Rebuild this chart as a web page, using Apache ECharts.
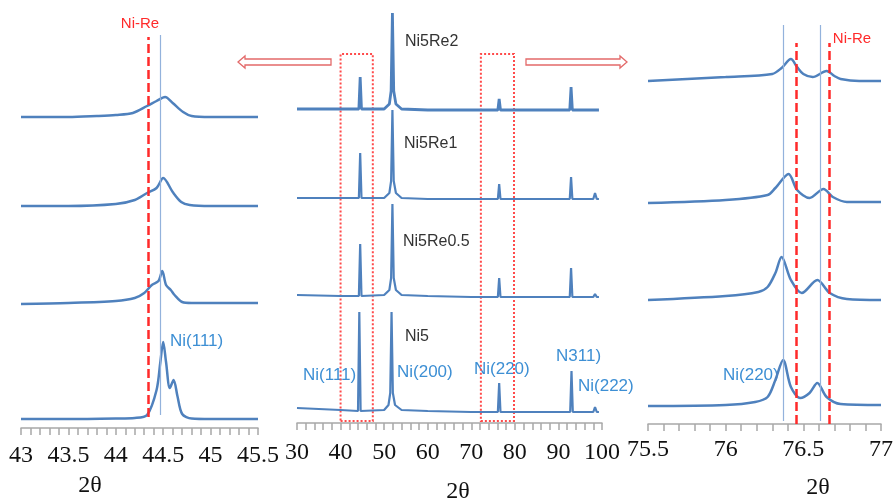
<!DOCTYPE html>
<html>
<head>
<meta charset="utf-8">
<script src="https://cdn.jsdelivr.net/npm/echarts@6/dist/echarts.min.js"></script>
<style>
  html, body { margin: 0; padding: 0; background: #fff; }
  #xrd { width: 896px; height: 502px; }
</style>
</head>
<body>
<div id="xrd"></div>
<script>
// intensity in a.u., each pattern already offset (as in the original stacked plot)
const samples = ['Ni5', 'Ni5Re0.5', 'Ni5Re1', 'Ni5Re2'];

// Ni(111) zoom, 43 - 45.5
const ni111Ni5 = [[43, 9], [43.5, 9], [44, 9.5], [44.2, 10], [44.33, 13], [44.43, 38], [44.47, 66], [44.5, 86],
  [44.53, 66], [44.57, 40], [44.61, 48], [44.65, 32], [44.7, 14], [44.8, 9.5], [45, 9], [45.5, 9]];
const ni111Re05 = [[43, 124], [43.5, 125], [44, 127], [44.2, 130], [44.3, 135], [44.38, 143], [44.45, 147],
  [44.49, 157], [44.53, 143], [44.58, 138], [44.62, 133], [44.7, 126], [44.8, 125], [45.5, 125]];
const ni111Re1 = [[43, 222], [43.5, 222], [44, 224], [44.2, 228], [44.33, 235], [44.43, 240], [44.5, 250],
  [44.6, 236], [44.69, 226], [44.78, 223], [45, 222], [45.5, 222]];
const ni111Re2 = [[43, 311], [43.5, 311], [43.8, 312], [44, 313], [44.18, 315], [44.33, 322], [44.43, 327],
  [44.52, 331], [44.6, 325], [44.71, 316], [44.8, 312], [45, 311], [45.5, 311]];

// full scan, 30 - 100
const fullNi5 = [[30, 15], [40, 13], [44, 12], [44.3, 111], [44.6, 12], [50, 13], [51, 18], [51.4, 30], [51.7, 111],
  [52, 30], [52.5, 18], [54, 13], [60, 12], [70, 11], [76.1, 11], [76.4, 40], [76.7, 11], [85, 11], [92.7, 11],
  [93, 52], [93.3, 11], [98, 11], [98.4, 16], [98.8, 11], [99.3, 11]];
const fullRe05 = [[30, 128], [40, 127], [44.2, 127], [44.5, 179], [44.8, 127], [50, 128], [51.2, 133], [51.6, 145],
  [51.9, 219], [52.2, 145], [52.7, 133], [54, 128], [60, 127], [70, 126], [76.1, 126], [76.4, 145], [76.7, 126],
  [85, 126], [92.6, 126], [92.9, 155], [93.2, 126], [98, 126], [98.4, 129], [98.8, 126], [99.3, 126]];
const fullRe1 = [[30, 225], [40, 225], [44.2, 225], [44.5, 270], [44.8, 225], [50, 225], [51.2, 230], [51.6, 242],
  [51.9, 313], [52.2, 242], [52.7, 230], [54, 225], [60, 224], [70, 224], [76.1, 224], [76.4, 239], [76.7, 224],
  [85, 224], [92.6, 224], [92.9, 246], [93.2, 224], [98, 224], [98.4, 230], [98.8, 224], [99.3, 224]];
const fullRe2 = [[30, 314], [40, 314], [44.2, 314], [44.5, 346], [44.8, 314], [50, 314], [51.2, 319], [51.6, 332],
  [51.9, 410], [52.2, 332], [52.7, 319], [54, 314], [60, 313], [70, 313], [76.1, 313], [76.4, 324], [76.7, 313],
  [85, 313], [92.6, 313], [92.9, 336], [93.2, 313], [98, 313], [98.4, 315], [98.8, 313], [99.3, 313]];

// Ni(220) zoom, 75.5 - 77
const ni220Ni5 = [[75.5, 18], [76, 19], [76.19, 22], [76.27, 27], [76.32, 44], [76.37, 64], [76.42, 37],
  [76.48, 26], [76.54, 31], [76.59, 41], [76.65, 27], [76.74, 20], [77, 19]];
const ni220Re05 = [[75.5, 124], [76, 128], [76.21, 132], [76.27, 137], [76.32, 151], [76.36, 167], [76.42, 144],
  [76.49, 131], [76.59, 144], [76.67, 131], [76.78, 125], [77, 124]];
const ni220Re1 = [[75.5, 221], [76, 224], [76.27, 229], [76.32, 236], [76.405, 250], [76.46, 234], [76.54, 226],
  [76.63, 235], [76.69, 227], [76.78, 222], [77, 222]];
const ni220Re2 = [[75.5, 343], [76, 347], [76.3, 350], [76.36, 356], [76.42, 365], [76.46, 357], [76.5, 350],
  [76.56, 347], [76.65, 353], [76.7, 348], [76.74, 345], [76.86, 343], [77, 343]];

// reference positions
const ni111Line = 44.47, niRe111 = 44.34;
const ni220Lines = [76.37, 76.606], niRe220 = [76.455, 76.67];
const zoomBoxes = [[40, 47.4], [72.2, 79.8]];

const BLUE = '#4f81bd';
const LABEL_BLUE = '#3d8fd4';
const RED = '#ff2a2a';
const AXIS_GREY = '#a8a8a8';

const chart = echarts.init(document.getElementById('xrd'));

function xAxisFor(idx, min, max, interval, margin) {
  return {
    type: 'value', gridIndex: idx, min, max, interval,
    axisLine: { show: true, lineStyle: { color: AXIS_GREY, width: 1.5 } },
    axisTick: { show: true, length: 7, lineStyle: { color: AXIS_GREY, width: 1.5 } },
    minorTick: { show: true, splitNumber: 5, length: 7, lineStyle: { color: AXIS_GREY, width: 1.5 } },
    splitLine: { show: false },
    axisLabel: {
      fontFamily: 'Liberation Serif', fontSize: 24, color: '#111', margin,
      showMinLabel: true, showMaxLabel: true, hideOverlap: false,
    },
  };
}

function yAxisFor(idx) {
  return { type: 'value', gridIndex: idx, min: 0, max: 420, show: false };
}

function curve(idx, name, data, width, smooth) {
  return {
    type: 'line', name, xAxisIndex: idx, yAxisIndex: idx, data,
    showSymbol: false, smooth, silent: true,
    lineStyle: { color: BLUE, width },
  };
}

function vLine(x, y1, y2, style) {
  return [{ coord: [x, y1], lineStyle: style }, { coord: [x, y2] }];
}

const thinBlue = { color: '#93b2dc', width: 1.2, type: 'solid' };
const redDash = { color: RED, width: 2.5, type: [9, 4] };

const series = [
  curve(0, samples[0], ni111Ni5, 2.5, 0.3),
  curve(0, samples[1], ni111Re05, 2.5, 0.3),
  curve(0, samples[2], ni111Re1, 2.5, 0.3),
  curve(0, samples[3], ni111Re2, 2.5, 0.3),
  curve(1, samples[0], fullNi5, 2.2, false),
  curve(1, samples[1], fullRe05, 2.2, false),
  curve(1, samples[2], fullRe1, 2.2, false),
  curve(1, samples[3], fullRe2, 2.8, false),
  curve(2, samples[0], ni220Ni5, 2.5, 0.3),
  curve(2, samples[1], ni220Re05, 2.5, 0.3),
  curve(2, samples[2], ni220Re1, 2.5, 0.3),
  curve(2, samples[3], ni220Re2, 2.5, 0.3),
];

// reference lines in the two zoom panels
series[0].markLine = {
  silent: true, symbol: 'none', label: { show: false },
  data: [vLine(ni111Line, 13, 393, thinBlue), vLine(niRe111, 11, 391, redDash)],
};
series[8].markLine = {
  silent: true, symbol: 'none', label: { show: false },
  data: [
    vLine(ni220Lines[0], 3, 399, thinBlue), vLine(ni220Lines[1], 3, 399, thinBlue),
    vLine(niRe220[0], 0, 381, redDash), vLine(niRe220[1], 0, 381, redDash),
  ],
};
// dotted boxes in the full scan
series[4].markArea = {
  silent: true,
  itemStyle: { color: 'rgba(0,0,0,0)', borderColor: '#ff4a4a', borderWidth: 2, borderType: [2, 2] },
  data: zoomBoxes.map(b => [{ coord: [b[0], 2] }, { coord: [b[1], 369] }]),
};

function txt(x, y, text, color, size, family, align) {
  return {
    type: 'text', x, y, silent: true,
    style: {
      text, fill: color, fontSize: size, fontFamily: family || 'Liberation Sans',
      align: align || 'left', verticalAlign: 'middle',
    },
  };
}

const arrowStyle = { fill: '#fff', stroke: '#e36a6a', lineWidth: 1.3 };

const option = {
  animation: false,
  backgroundColor: '#fff',
  grid: [
    { left: 21, width: 237, top: 8, height: 420 },
    { left: 297, width: 305, top: 3, height: 420 },
    { left: 648, width: 237, top: 4, height: 420 },
  ],
  xAxis: [
    xAxisFor(0, 43, 45.5, 0.5, 16),
    xAxisFor(1, 30, 100, 10, 18),
    xAxisFor(2, 75.5, 77, 0.5, 14),
  ],
  yAxis: [yAxisFor(0), yAxisFor(1), yAxisFor(2)],
  series,
  graphic: [
    txt(140, 24, 'Ni-Re', RED, 15, null, 'center'),
    txt(852, 39, 'Ni-Re', RED, 15, null, 'center'),
    txt(170, 341, 'Ni(111)', LABEL_BLUE, 17),
    txt(723, 375, 'Ni(220)', LABEL_BLUE, 17),
    txt(405, 42, 'Ni5Re2', '#333', 16),
    txt(404, 144, 'Ni5Re1', '#333', 16),
    txt(403, 242, 'Ni5Re0.5', '#333', 16),
    txt(405, 337, 'Ni5', '#333', 16),
    txt(303, 375, 'Ni(111)', LABEL_BLUE, 17),
    txt(397, 372, 'Ni(200)', LABEL_BLUE, 17),
    txt(474, 369, 'Ni(220)', LABEL_BLUE, 17),
    txt(556, 356, 'N311)', LABEL_BLUE, 17),
    txt(578, 386, 'Ni(222)', LABEL_BLUE, 17),
    txt(90, 486, '2θ', '#111', 24, 'Liberation Serif', 'center'),
    txt(458, 492, '2θ', '#111', 24, 'Liberation Serif', 'center'),
    txt(818, 488, '2θ', '#111', 24, 'Liberation Serif', 'center'),
    {
      type: 'polygon', silent: true, style: arrowStyle,
      shape: { points: [[238, 62], [245, 56], [245, 59], [331, 59], [331, 65], [245, 65], [245, 68]] },
    },
    {
      type: 'polygon', silent: true, style: arrowStyle,
      shape: { points: [[526, 59], [620, 59], [620, 56], [627, 62], [620, 68], [620, 65], [526, 65]] },
    },
  ],
};

chart.setOption(option);
</script>
</body>
</html>
